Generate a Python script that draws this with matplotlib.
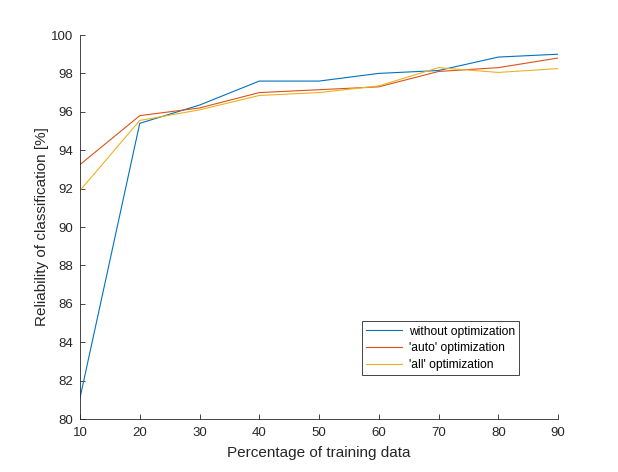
import numpy as np
import matplotlib.pyplot as plt

plt.rcParams['font.family'] = ['Liberation Sans', 'DejaVu Sans']

train_pct = [10, 20, 30, 40, 50, 60, 70, 80, 90]
no_opt = [81.1, 95.4, 96.35, 97.6, 97.6, 98.0, 98.15, 98.85, 99.0]
auto_opt = [93.25, 95.8, 96.2, 97.0, 97.15, 97.3, 98.1, 98.3, 98.8]
all_opt = [91.9, 95.55, 96.1, 96.85, 97.0, 97.35, 98.3, 98.05, 98.25]

fig = plt.figure(figsize=(6.18, 4.72), dpi=100)
ax = fig.add_axes([80/618, 53/472, 478/618, 384/472])

ax.plot(train_pct, no_opt, color='#0072BD', lw=0.8, label='without optimization')
ax.plot(train_pct, auto_opt, color='#D95319', lw=0.8, label="'auto' optimization")
ax.plot(train_pct, all_opt, color='#EDB120', lw=0.8, label="'all' optimization")

ax.set_xlim(10, 90)
ax.set_ylim(80, 100)
ax.set_xticks(range(10, 91, 10))
ax.set_yticks(range(80, 101, 2))
ax.spines['top'].set_visible(False)
ax.spines['right'].set_visible(False)
for s in ['left', 'bottom']:
    ax.spines[s].set_color('#262626')
    ax.spines[s].set_linewidth(0.6)
ax.tick_params(direction='in', length=3.5, width=0.6, colors='#262626', labelsize=9.5)
ax.tick_params(axis='x', pad=6)
ax.tick_params(axis='y', pad=5)
ax.set_xlabel('Percentage of training data', fontsize=11, color='#262626', labelpad=5)
ax.set_ylabel('Reliability of classification [%]', fontsize=11, color='#262626', labelpad=1)

leg = ax.legend(loc='lower left', bbox_to_anchor=(282/478, 44/384), fontsize=8.7,
                frameon=True, fancybox=False, framealpha=1, borderpad=0.35,
                handlelength=3.0, handletextpad=0.5, labelspacing=0.38, borderaxespad=0)
leg.get_frame().set_edgecolor('#262626')
leg.get_frame().set_linewidth(0.6)
# stretch legend box a bit to match the reference width
leg._legend_box.align = 'left'

plt.savefig('out.png', dpi=100)
